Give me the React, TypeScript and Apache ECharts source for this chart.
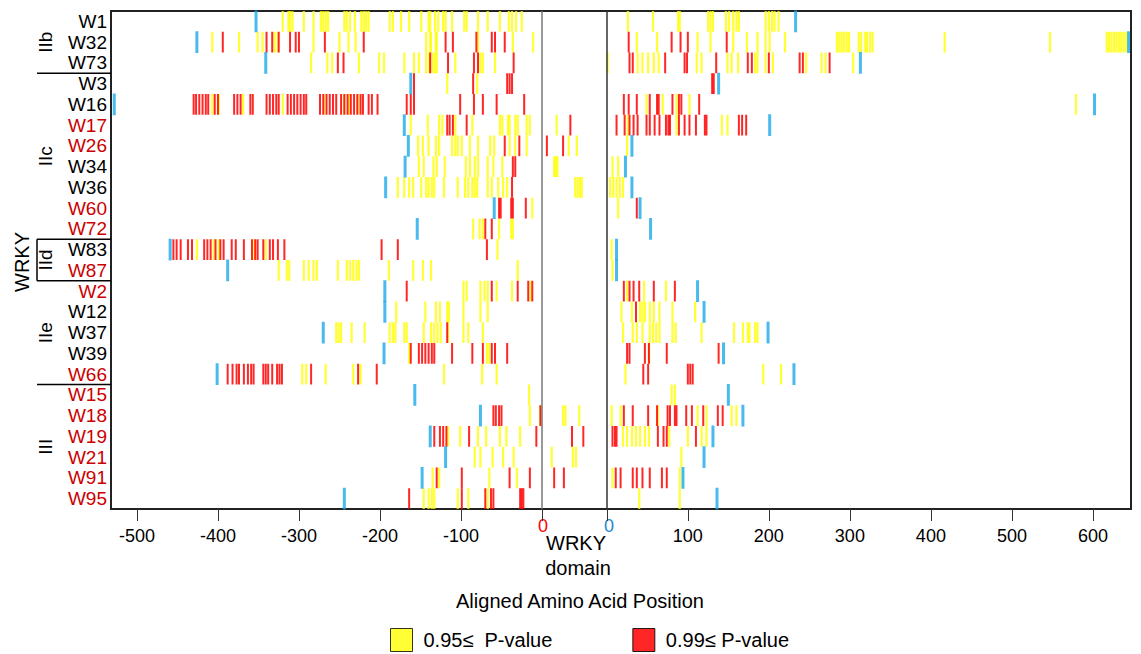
import React, { useEffect, useRef } from "react";
import * as echarts from "echarts";

// ---------- data ----------
const rows = ["W1","W32","W73","W3","W16","W17","W26","W34","W36","W60","W72","W83","W87","W2","W12","W37","W39","W66","W15","W18","W19","W21","W91","W95"];
const redLabels = ["W17","W26","W60","W72","W87","W2","W66","W15","W18","W19","W21","W91","W95"];
const groupNames = ["IIb", "IIc", "IId", "IIe", "III"];
const groupSizes = [3, 8, 2, 5, 6];
const xTickValues = [-500, -400, -300, -200, -100, 100, 200, 300, 400, 500, 600];
const DOMAIN = 80; // width of the WRKY domain on the aligned axis

// positions (negative = before domain, positive = after domain)
const yellow: number[][] = [
  [-320,-313,-311,-308,-294,-282,-273,-270,-267,-264,-244,-241,-237,-231,-223,-220,-217,-214,-188,-184,-174,-164,-149,-140,-138,-132,-128,-122,-119,-111,-96,-93,-79,-67,-52,-41,-37,-32,-25,26,57,88,90,125,128,131,147,151,156,160,163,196,200,204,207,212],
  [-407,-374,-351,-345,-330,-326,-282,-250,-239,-230,-143,-138,-137,-131,-130,-79,-36,-11,37,62,112,128,156,173,186,196,201,220,284,287,290,293,296,299,311,314,319,321,325,328,417,547,617,620,623,626,629,632,635,638,641],
  [-285,-265,-259,-226,-201,-195,-170,-158,-152,-143,-139,-135,-132,-130,-107,-76,-73,-58,1,38,44,51,58,64,111,117,149,154,162,183,186,196,205,246,265,270,304],
  [-117,-80],
  [-407,-399,-369,-320,-269,-244,-238,-227,49,69,86,102,579],
  [-162,-141,-127,-123,-107,-86,-52,-49,-42,-40,-33,-30,-19,-15,26,86,142,149],
  [-153,-147,-140,-131,-127,-111,-107,-104,-99,-89,-79,-64,-59,-40,-33,-19,25],
  [-152,-146,-134,-130,-120,-94,-89,-83,-79,-67,-60,-49,7,14],
  [-178,-170,-164,-159,-149,-143,-140,-136,-133,-121,-104,-95,-91,-86,-83,-80,-67,-62,-54,-48,-43,4,8,12,16,20],
  [-12,14],
  [-85,-77,-73,-53,-38,-36],
  [-426,-405,-399,-355,-341,-55,6],
  [-325,-315,-312,-294,-288,-282,-278,-252,-241,-237,-233,-229,-226,-189,-159,-147,-137,-30,7],
  [-97,-93,-76,-71,-67,-56,-37,-14,25,46,73],
  [-180,-144,-131,-126,-117,-115,-97,-76,-67,18,31,41,44,47,53,58,65,81,109],
  [-254,-251,-248,-235,-219,-188,-184,-181,-170,-167,-146,-137,-133,-129,-125,-116,-97,-91,-73,20,32,37,44,53,57,61,65,81,85,117,157,168,174,176,183,186],
  [-164,-68,-65,52],
  [-296,-291,-267,-233,-224,-121,-74,-56,23,193,215],
  [-16,80,84],
  [-15,-2,6,17,63,112,123,154,160],
  [-116,-101,-79,-69,-52,-44,-27,20,25,31,36,41,47,52,77,100,117,123],
  [-83,-76,-61,-48,-35,92],
  [-135,-127,-65,-31,7,90],
  [-146,-140,-136,-133,-104,-91,-67,40,90],
];
const red: number[][] = [
  [],
  [-394,-340,-333,-325,-311,-304,-300,-268,-220,-119,-110,-81,-62,-58,-46,27,80,91,100,148],
  [-252,-245,-138,-116,-84,-79,-35,28,32,72,96,99,135,174,179,200,238,242,275],
  [-158,-85,-43,-40,-37,130,132],
  [-430,-427,-423,-419,-415,-412,-404,-400,-380,-376,-372,-360,-357,-340,-336,-332,-328,-325,-314,-310,-306,-302,-298,-294,-291,-274,-270,-266,-262,-258,-254,-248,-244,-240,-236,-232,-228,-224,-221,-214,-210,-203,-167,-162,-158,-101,-84,-73,-56,-22,21,27,37,53,62,64,81,89,92,114],
  [-117,-114,-110,-93,12,22,28,33,38,49,53,59,65,73,76,78,89,96,102,110,121,123,163,167,172],
  [-46,-28],
  [-36,-33],
  [-37],
  [-53,-51,-38,-36,-20,37],
  [-70,-62],
  [-455,-451,-446,-437,-432,-417,-413,-409,-403,-397,-393,-383,-378,-368,-358,-354,-351,-344,-336,-332,-326,-318,-198,-178,-68],
  [],
  [-167,-62,-30,-17,-12,21,28,33,40,58,84],
  [36],
  [-117],
  [-162,-152,-148,-144,-140,-136,-133,-111,-86,-73,-62,-58,-43,25,28,47,52,74,138],
  [-388,-382,-377,-374,-368,-363,-359,-356,-344,-341,-338,-333,-327,-324,-321,-285,-227,-204,45,51,100,103,106],
  [],
  [-60,-57,-53,-50,-2,21,32,51,62,75,78,84,86,98,105,119,137,143],
  [-133,-126,-122,-118,-90,-7,7,10,12,63,70,74,110],
  [],
  [-130,-99,-40,-15,11,17,32,37,44,53,68,74],
  [-164,-99,-70,-63,-60,-27,-25,-23],
];
// positions inside the WRKY domain (0 .. DOMAIN)
const yellowDomain: number[][] = [
  [],[],[],[],[],[18],[33,43],[15,17,19],[41,44,47,49],[],[],[],[],[],[],[],[],[],[],[26,29,46],[],[12,38,42],[],[],
];
const redDomain: number[][] = [
  [],[],[],[],[],[35],[6,26],[],[],[],[],[],[],[],[],[],[],[],[],[],[37,51],[],[15,27],[],
];
// sequence ends (blue)
const ends: number[][] = [
  [-353,233],[-426,644],[-341,313],[-162,138],[-528,602],[-170,201],[-165,31],[-169,23],
  [-193,31],[-59,41],[-154,54],[-459,12],[-388,12],[-194,112],[-194,120],[-270,199],
  [-195,144],[-401,231],[-157,150],[-76,168],[-138,131],[-119,120],[-148,94],[-244,136],
];

// ---------- layout ----------
const GRID_LEFT = 111;
const GRID_RIGHT = 10;
const GRID_TOP = 11;
const GRID_H = 498;
const ROW_H = GRID_H / rows.length;
const FONT = "'Liberation Sans', Arial, Helvetica, sans-serif";

const toAxis = (v: number) => (v < 0 ? v : v + DOMAIN);

export default function App() {
  const ref = useRef<HTMLDivElement>(null);

  useEffect(() => {
    if (!ref.current) return;
    const chart = echarts.init(ref.current, null, { renderer: "svg" });

    const yData: number[][] = [];
    const rData: number[][] = [];
    const bData: number[][] = [];
    rows.forEach((_, i) => {
      yellow[i].forEach((v) => yData.push([toAxis(v), i]));
      yellowDomain[i].forEach((d) => yData.push([d, i]));
      red[i].forEach((v) => rData.push([toAxis(v), i]));
      redDomain[i].forEach((d) => rData.push([d, i]));
      ends[i].forEach((v) => bData.push([toAxis(v), i]));
    });

    const graphics: any[] = [];
    let acc = 0;
    groupSizes.forEach((n, gi) => {
      const y0 = GRID_TOP + acc * ROW_H;
      const y1 = GRID_TOP + (acc + n) * ROW_H;
      graphics.push({
        type: "text",
        x: 45,
        y: (y0 + y1) / 2,
        rotation: Math.PI / 2,
        style: { text: groupNames[gi], font: `19px ${FONT}`, fill: "#000", align: "center", verticalAlign: "middle" },
      });
      acc += n;
      if (gi < groupSizes.length - 1) {
        graphics.push({
          type: "line",
          shape: { x1: 37, y1: y1, x2: GRID_LEFT, y2: y1 },
          style: { stroke: "#000", lineWidth: 1.5 },
        });
      }
    });
    const idStart = GRID_TOP + 11 * ROW_H;
    graphics.push({
      type: "line",
      shape: { x1: 37, y1: idStart, x2: 37, y2: idStart + 2 * ROW_H },
      style: { stroke: "#000", lineWidth: 1.5 },
    });
    graphics.push({
      type: "text", x: 22, y: 262, rotation: Math.PI / 2,
      style: { text: "WRKY", font: `20px ${FONT}`, fill: "#000", align: "center", verticalAlign: "middle" },
    });
    graphics.push({
      type: "text", x: 543, y: 526,
      style: { text: "0", font: `18px ${FONT}`, fill: "#FF0000", align: "center", verticalAlign: "middle" },
    });
    graphics.push({
      type: "text", x: 609, y: 526,
      style: { text: "0", font: `18px ${FONT}`, fill: "#1E88D0", align: "center", verticalAlign: "middle" },
    });
    graphics.push({
      type: "text", x: 576, y: 543,
      style: { text: "WRKY", font: `20px ${FONT}`, fill: "#000", align: "center", verticalAlign: "middle" },
    });
    graphics.push({
      type: "text", x: 578, y: 568,
      style: { text: "domain", font: `20px ${FONT}`, fill: "#000", align: "center", verticalAlign: "middle" },
    });
    graphics.push({
      type: "text", x: 580, y: 601,
      style: { text: "Aligned Amino Acid Position", font: `20px ${FONT}`, fill: "#000", align: "center", verticalAlign: "middle" },
    });

    const labelVals = xTickValues.map(toAxis);
    const tickVals = [...labelVals, 0, DOMAIN];

    chart.setOption({
      animation: false,
      backgroundColor: "#fff",
      grid: {
        left: GRID_LEFT, right: GRID_RIGHT, top: GRID_TOP, height: GRID_H,
        show: true, borderColor: "#222", borderWidth: 2, backgroundColor: "transparent",
      },
      xAxis: {
        type: "value",
        min: -532,
        max: 727,
        axisLine: { show: false },
        splitLine: { show: false },
        axisTick: { show: true, customValues: tickVals, length: 12, lineStyle: { color: "#333", width: 1 } },
        axisLabel: {
          customValues: labelVals,
          formatter: (v: number) => String(v > 0 ? v - DOMAIN : v),
          fontSize: 18, color: "#000", margin: 18, fontFamily: FONT,
        },
      },
      yAxis: {
        type: "category",
        data: rows,
        inverse: true,
        axisLine: { show: false },
        axisTick: { show: false },
        splitLine: { show: false },
        axisLabel: {
          interval: 0,
          hideOverlap: false,
          fontSize: 19, fontFamily: FONT, margin: 4,
          color: (v: string) => (redLabels.includes(v) ? "#CC0000" : "#000"),
        },
      },
      legend: {
        left: 390, top: 628, padding: 0,
        itemWidth: 22, itemHeight: 23, itemGap: 80,
        textStyle: { fontSize: 20, fontFamily: FONT, color: "#000", padding: [0, 0, 0, 6] },
        data: [
          { name: "0.95≤  P-value", icon: "rect", itemStyle: { color: "#FFFF00", borderColor: "#000", borderWidth: 1 } },
          { name: "0.99≤ P-value", icon: "rect", itemStyle: { color: "#FF0000", borderColor: "#000", borderWidth: 1 } },
        ],
      },
      graphic: graphics,
      series: [
        {
          name: "0.95≤  P-value", type: "scatter", symbol: "rect", symbolSize: [2.2, ROW_H],
          itemStyle: { color: "#FFFF00" }, data: yData, silent: true, z: 2,
        },
        {
          name: "0.99≤ P-value", type: "scatter", symbol: "rect", symbolSize: [2, ROW_H],
          itemStyle: { color: "#FF0000", opacity: 0.85 }, data: rData, silent: true, z: 3,
        },
        {
          name: "ends", type: "scatter", symbol: "rect", symbolSize: [3, ROW_H + 1],
          itemStyle: { color: "#1BA9E8" }, data: bData, silent: true, z: 4,
          markLine: {
            silent: true, symbol: "none", label: { show: false },
            data: [
              { xAxis: 0, lineStyle: { color: "#777", width: 1.5, type: "solid" } },
              { xAxis: DOMAIN, lineStyle: { color: "#333", width: 1.5, type: "solid" } },
            ],
          },
        },
      ],
    });

    return () => chart.dispose();
  }, []);

  return (
    <div
      ref={ref}
      style={{ position: "fixed", left: 0, top: 0, width: 1141, height: 654, background: "#fff" }}
    />
  );
}
